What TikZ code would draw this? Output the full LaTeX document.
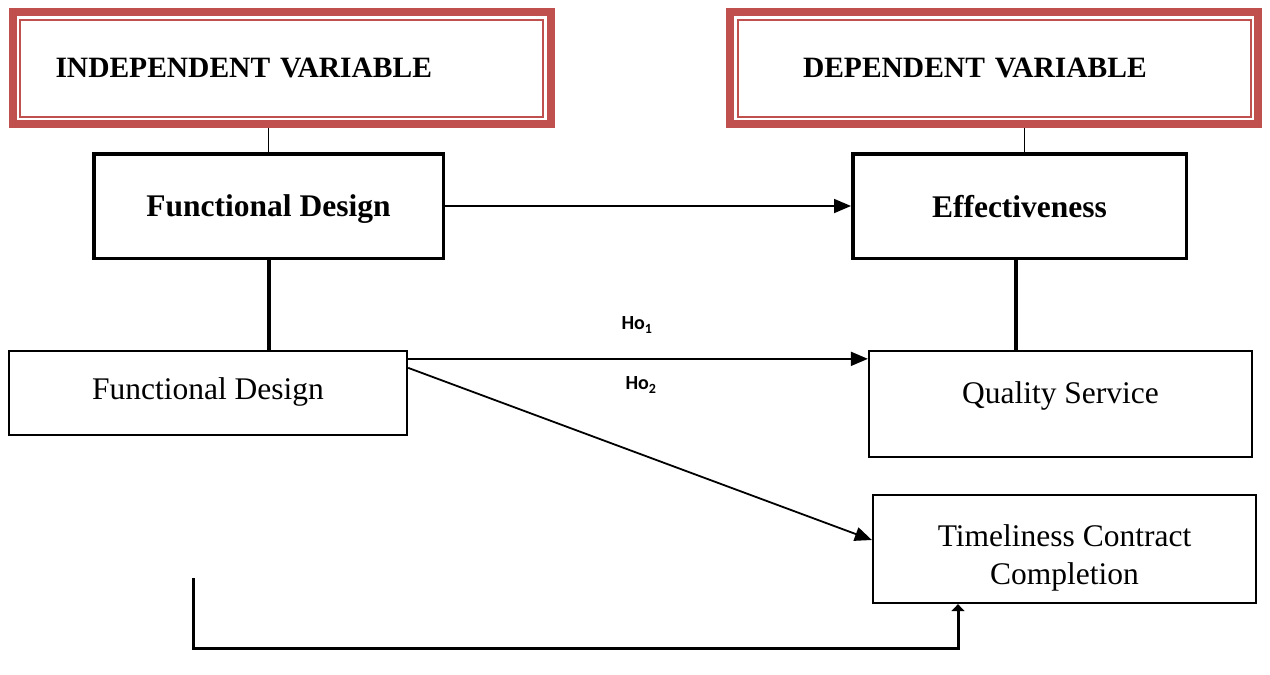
\documentclass[tikz,border=0pt]{standalone}
\usepackage{fontspec}
\setmainfont{Liberation Serif}
\newfontfamily\hofont{Carlito}
\usepackage{xcolor}
\definecolor{varred}{RGB}{192,80,77}
\usetikzlibrary{arrows.meta}

\begin{document}
\begin{tikzpicture}[x=1pt, y=-1pt,
        varbox/.style={draw=varred, line width=8pt, minimum height=112pt, align=left,
            font=\fontsize{29.5}{34}\selectfont\bfseries},
        boldbox/.style={draw, line width=3.5pt, minimum width=#1, minimum height=104.5pt,
            text depth=0pt, font=\fontsize{31.5}{38}\selectfont\bfseries},
        plainbox/.style 2 args={draw, line width=1.8pt, minimum width=#1, minimum height=#2,
            align=center, font=\fontsize{31.5}{38}\selectfont},
        link/.style={line width=1.8pt},
        heavy/.style={line width=4pt},
        arr/.style={line width=1.8pt, -{Triangle[length=17pt,width=14pt]}},
        hlabel/.style={font=\hofont\bfseries\fontsize{20}{24}\selectfont}]
        %\draw[help lines] (0,0) grid[step=50] (1270,675);
        \useasboundingbox (0,0) rectangle (1270,675);
        \node[varbox, text width=452pt, inner xsep=43pt] (iv) at (281.5,68) {INDEPENDENT VARIABLE};
        \node[varbox, text width=382pt, inner xsep=73pt] (dv) at (994,68) {DEPENDENT VARIABLE};
        \foreach \v in {iv,dv}
            \draw[varred, line width=2pt] ([xshift=11.5pt,yshift=-11.5pt]\v.north west)
                rectangle ([xshift=-11.5pt,yshift=11.5pt]\v.south east);
        \node[boldbox=349.5pt] (fdb) at (268.5,206) {Functional Design};
        \node[boldbox=333.5pt] (eff) at (1019.5,206) {Effectiveness};
        \node[plainbox={398.5pt}{84.5pt}, text depth=9pt] (fdp) at (208,393) {Functional Design};
        \node[plainbox={383.5pt}{106.5pt}, text depth=22pt] (qs) at (1060.5,404) {Quality Service};
        \node[plainbox={383.5pt}{108.5pt}] (tc) at (1064.5,549) {\rule{0pt}{40pt}Timeliness Contract\\Completion};
        \draw[link] (iv.south -| fdb.north) -- (fdb.north);
        \draw[link] ([xshift=5pt]eff.north |- dv.south) -- ([xshift=5pt]eff.north);
        \draw[heavy] (fdb.south) -- (fdb.south |- fdp.north);
        \draw[heavy] ([xshift=-4pt]eff.south) -- ([xshift=-4pt]eff.south |- qs.north);
        \draw[arr] (fdb) -- (eff);
        \draw[arr] ([yshift=-9pt]fdp.north east) -- ([yshift=-9pt]fdp.north east -| qs.west);
        \draw[arr] ([yshift=-18pt]fdp.north east) -- ([yshift=9pt]tc.west);
        \node[hlabel] (h1) at (637,325) {Ho\textsubscript{1}};
        \node[hlabel] (h2) at (641,385) {Ho\textsubscript{2}};
        \coordinate (fb) at (193,578);
        \coordinate (fc) at (193,648);
        \draw[line width=3pt, -{Triangle[length=7pt,width=13pt]}] (fb) -- (fc) -| ([xshift=-106.5pt]tc.south);
\end{tikzpicture}
\end{document}
